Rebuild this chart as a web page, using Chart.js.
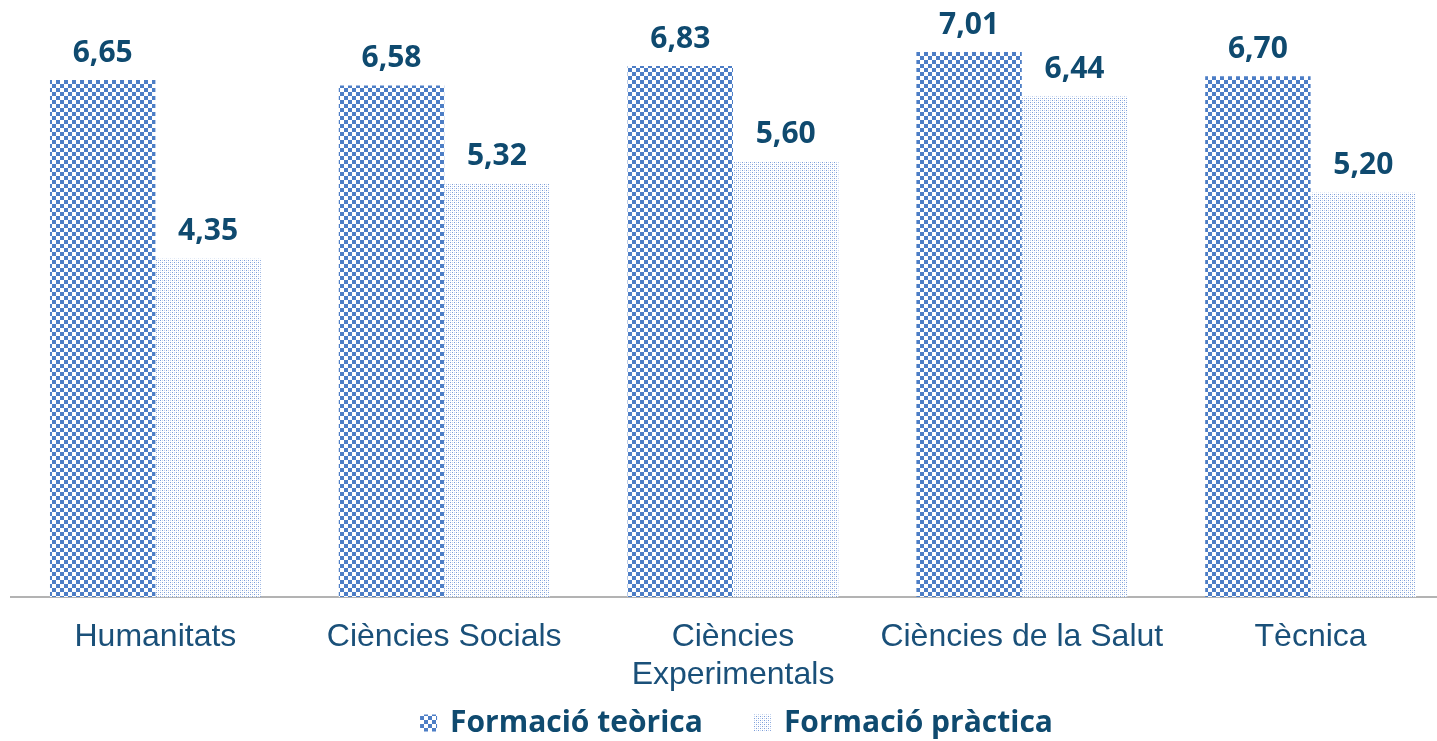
<!DOCTYPE html>
<html>
<head>
<meta charset="utf-8">
<script src="https://cdn.jsdelivr.net/npm/chart.js@4"></script>
<style>
  body { margin: 0; overflow: hidden; background: #fff; }
  #wrap { position: absolute; left: 0; top: 0; width: 1455px; height: 741px; }
</style>
</head>
<body>
<div id="wrap"><canvas id="myChart"></canvas></div>
<script>
const categories = [
  'Humanitats',
  'Ciències Socials',
  ['Ciències', 'Experimentals'],
  'Ciències de la Salut',
  'Tècnica',
];
const seriesNames = ['Formació teòrica', 'Formació pràctica'];
const teorica = [6.65, 6.58, 6.83, 7.01, 6.70];
const practica = [4.35, 5.32, 5.60, 6.44, 5.20];

const darkBlue = '#0f4a6f';
const tickBlue = '#1a5079';

// checkerboard fill for the first series
const checker = () => {
  const c = document.createElement('canvas');
  c.width = 8; c.height = 8;
  const x = c.getContext('2d');
  x.fillStyle = '#ffffff';
  x.fillRect(0, 0, 8, 8);
  x.fillStyle = '#4d7ec6';
  x.fillRect(0, 0, 4, 4);
  x.fillRect(4, 4, 4, 4);
  return x.createPattern(c, 'repeat');
};

// sparse dots for the second series
const dots = () => {
  const c = document.createElement('canvas');
  c.width = 4; c.height = 4;
  const x = c.getContext('2d');
  x.fillStyle = '#ffffff';
  x.fillRect(0, 0, 4, 4);
  x.fillStyle = '#7c9ed9';
  x.fillRect(0, 0, 1, 1);
  x.fillRect(2, 2, 1, 1);
  x.fillStyle = '#c6d5f0';
  x.fillRect(2, 0, 1, 1);
  x.fillRect(0, 2, 1, 1);
  return x.createPattern(c, 'repeat');
};

const fmt = v => v.toFixed(2).replace('.', ',');

const valueLabels = {
  id: 'valueLabels',
  afterDatasetsDraw(chart) {
    const ctx = chart.ctx;
    ctx.save();
    ctx.font = 'bold 30px "Open Sans"';
    ctx.fillStyle = darkBlue;
    ctx.textAlign = 'center';
    ctx.textBaseline = 'middle';
    chart.data.datasets.forEach((ds, i) => {
      chart.getDatasetMeta(i).data.forEach((bar, j) => {
        ctx.fillText(fmt(ds.data[j]), bar.x, bar.y - 27);
      });
    });
    ctx.restore();
  }
};

const bottomLegend = {
  id: 'bottomLegend',
  afterDraw(chart) {
    const ctx = chart.ctx;
    const box = 17, gapText = 13, gapItem = 51, y = 723;
    ctx.save();
    ctx.font = 'bold 30px "Open Sans"';
    const widths = chart.data.datasets.map(ds => ctx.measureText(ds.label).width);
    let total = 0;
    widths.forEach((w, i) => { total += box + gapText + w + (i ? gapItem : 0); });
    let x = 1437 / 2 - total / 2 + 18;
    ctx.textBaseline = 'middle';
    ctx.textAlign = 'left';
    chart.data.datasets.forEach((ds, i) => {
      ctx.fillStyle = ds.backgroundColor;
      ctx.fillRect(x, y - box / 2, box, box);
      ctx.fillStyle = darkBlue;
      ctx.fillText(ds.label, x + box + gapText, y);
      x += box + gapText + widths[i] + gapItem;
    });
    ctx.restore();
  }
};

const data = {
  labels: categories,
  datasets: [
    { label: seriesNames[0], data: teorica, backgroundColor: checker() },
    { label: seriesNames[1], data: practica, backgroundColor: dots() },
  ]
};

const config = {
  type: 'bar',
  data,
  plugins: [valueLabels, bottomLegend],
  options: {
    responsive: true,
    maintainAspectRatio: false,
    animation: false,
    categoryPercentage: 0.73,
    barPercentage: 1.0,
    layout: { padding: { left: 11, right: 0, top: 14, bottom: 44 } },
    plugins: {
      legend: { display: false },
      tooltip: { enabled: false },
    },
    scales: {
      x: {
        grid: { display: false, drawTicks: false },
        border: { display: true, color: '#b3b3b3', width: 2 },
        ticks: {
          color: tickBlue,
          font: { family: '"Liberation Sans", Arial', size: 32, lineHeight: 1.16 },
          padding: 22,
          maxRotation: 0,
          autoSkip: false,
        },
        afterFit(scale) { scale.height = 100; },
      },
      y: {
        display: false,
        min: 0,
        max: 7.5,
      }
    }
  }
};

new Chart(document.getElementById('myChart'), config);
</script>
</body>
</html>
